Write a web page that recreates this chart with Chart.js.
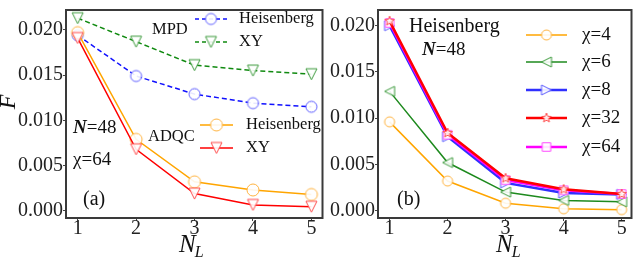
<!DOCTYPE html>
<html><head><meta charset="utf-8">
<script src="https://cdn.jsdelivr.net/npm/chart.js@4"></script>
<style>
body{margin:0;background:#fff;width:640px;height:259px;overflow:hidden;position:relative}
#wa{position:absolute;left:0;top:0;width:330px;height:259px}
#wb{position:absolute;left:330px;top:0;width:310px;height:259px}
</style></head><body>
<div id="wa"><canvas id="ca"></canvas></div>
<div id="wb"><canvas id="cb"></canvas></div>
<script>
// ---- data ----
const nL = [1, 2, 3, 4, 5];
const yTicks = [0, 0.005, 0.010, 0.015, 0.020];
// panel (a)
const mpdHeis  = [0.0194, 0.0149, 0.0129, 0.0119, 0.0115];
const mpdXY    = [0.0213, 0.0187, 0.0161, 0.0155, 0.0151];
const adqcHeis = [0.0197, 0.0079, 0.0032, 0.0023, 0.0018];
const adqcXY   = [0.0191, 0.0068, 0.0019, 0.00065, 0.00045];
// panel (b)
const chi4  = [0.0096, 0.0032, 0.0008, 0.0002, 0.0001];
const chi6  = [0.0129, 0.0052, 0.0020, 0.0011, 0.00095];
const chi8  = [0.0200, 0.0080, 0.0030, 0.0019, 0.00175];
const chi32 = [0.0205, 0.0084, 0.0035, 0.0023, 0.0018];
const chi64 = [0.0203, 0.0082, 0.0033, 0.0022, 0.0018];

const SERIF = '"Liberation Serif", "DejaVu Serif", serif';

function marker(shape, stroke, r) {
  const s = Math.ceil(r * 2 + 4);
  const c = document.createElement('canvas');
  c.width = s; c.height = s;
  const g = c.getContext('2d');
  const cx = s / 2, cy = s / 2;
  g.beginPath();
  if (shape === 'circle') {
    g.arc(cx, cy, r, 0, Math.PI * 2);
  } else if (shape === 'down') {
    g.moveTo(cx, cy + r); g.lineTo(cx - r, cy - r); g.lineTo(cx + r, cy - r); g.closePath();
  } else if (shape === 'left') {
    g.moveTo(cx - r, cy); g.lineTo(cx + r, cy - r); g.lineTo(cx + r, cy + r); g.closePath();
  } else if (shape === 'right') {
    g.moveTo(cx + r, cy); g.lineTo(cx - r, cy - r); g.lineTo(cx - r, cy + r); g.closePath();
  } else if (shape === 'square') {
    const h = r * 0.85; g.rect(cx - h, cy - h, 2 * h, 2 * h);
  } else if (shape === 'star') {
    for (let i = 0; i < 10; i++) {
      const rr = i % 2 === 0 ? r : r * 0.42;
      const a = -Math.PI / 2 + i * Math.PI / 5;
      const x = cx + rr * Math.cos(a), y = cy + rr * Math.sin(a);
      if (i === 0) g.moveTo(x, y); else g.lineTo(x, y);
    }
    g.closePath();
  }
  g.fillStyle = 'rgba(255,255,255,0.9)';
  g.fill();
  g.lineWidth = 1;
  g.strokeStyle = stroke;
  g.stroke();
  return c;
}

function pts(vals) { return nL.map((x, i) => ({ x: x, y: vals[i] })); }

function scalesCfg(xmax, ymax, yW) {
  const tickFont = { family: SERIF, size: 20, lineHeight: 1 };
  return {
    x: {
      type: 'linear', min: 0.8, max: xmax,
      afterBuildTicks: s => { s.ticks = nL.map(v => ({ value: v })); },
      afterFit: s => { s.height = 41; },
      ticks: { font: tickFont, color: '#222', padding: -2, maxRotation: 0 },
      grid: { display: true, drawOnChartArea: false, drawTicks: true, tickLength: 3, color: '#444' },
      border: { display: false }
    },
    y: {
      min: -0.0008, max: ymax,
      afterBuildTicks: s => { s.ticks = yTicks.map(v => ({ value: v })); },
      afterFit: s => { s.width = yW; },
      ticks: { font: tickFont, color: '#222', padding: 0, callback: v => Number(v).toFixed(3) },
      grid: { display: true, drawOnChartArea: false, drawTicks: true, tickLength: 3, color: '#444' },
      border: { display: false }
    }
  };
}

function drawNL(ctx, x, y) {
  ctx.save();
  ctx.fillStyle = '#111';
  ctx.textBaseline = 'middle';
  ctx.textAlign = 'left';
  ctx.font = 'italic 25px ' + SERIF;
  ctx.fillText('N', x, y);
  const w = ctx.measureText('N').width;
  ctx.font = 'italic 16px ' + SERIF;
  ctx.fillText('L', x + w - 1, y + 8);
  ctx.restore();
}

function frame(chart) {
  const a = chart.chartArea, ctx = chart.ctx;
  ctx.save();
  ctx.strokeStyle = '#3a3a3a';
  ctx.lineWidth = 2;
  ctx.strokeRect(a.left, a.top, a.right - a.left, a.bottom - a.top);
  ctx.restore();
}

function legendRow(ctx, x1, x2, y, color, width, dash, img, label, font, tx) {
  ctx.save();
  ctx.strokeStyle = color; ctx.lineWidth = width; ctx.setLineDash(dash);
  ctx.beginPath(); ctx.moveTo(x1, y); ctx.lineTo(x2, y); ctx.stroke();
  ctx.setLineDash([]);
  const mx = (x1 + x2) / 2;
  ctx.drawImage(img, mx - img.width / 2, y - img.height / 2);
  ctx.fillStyle = '#111'; ctx.font = font; ctx.textBaseline = 'middle'; ctx.textAlign = 'left';
  ctx.fillText(label, tx, y);
  ctx.restore();
}

function text(ctx, s, x, y, font) {
  ctx.save();
  ctx.fillStyle = '#111'; ctx.font = font; ctx.textBaseline = 'middle'; ctx.textAlign = 'left';
  ctx.fillText(s, x, y);
  ctx.restore();
}
function textN(ctx, rest, x, y, size) {
  ctx.save();
  ctx.fillStyle = '#111'; ctx.textBaseline = 'middle'; ctx.textAlign = 'left';
  ctx.font = 'italic bold ' + size + 'px ' + SERIF;
  ctx.fillText('N', x, y);
  const w = ctx.measureText('N').width;
  ctx.font = size + 'px ' + SERIF;
  ctx.fillText(rest, x + w, y);
  ctx.restore();
}

// markers
const mA = {
  blueC: marker('circle', '#5a5aff', 5.5),
  greenT: marker('down', '#3c9a3c', 5.5),
  orangeC: marker('circle', '#ffb340', 6),
  redT: marker('down', '#ff4a4a', 5.5)
};
const mB = {
  c4: marker('circle', '#ffb340', 5),
  c6: marker('left', '#3c9a3c', 5),
  c8: marker('right', '#5a5aff', 5),
  c32: marker('star', '#ff4a4a', 5),
  c64: marker('square', '#ff4aff', 5)
};

function ds(label, vals, color, width, dash, img) {
  return {
    label: label, data: pts(vals), borderColor: color, borderWidth: width,
    borderDash: dash, pointStyle: img, pointRadius: 6, pointHoverRadius: 6,
    tension: 0, fill: false
  };
}

Chart.defaults.font.family = SERIF;

new Chart(document.getElementById('ca'), {
  type: 'line',
  data: {
    datasets: [
      ds('ADQC XY', adqcXY, '#ff0000', 1.5, [], mA.redT),
      ds('ADQC Heisenberg', adqcHeis, '#ffa500', 1.5, [], mA.orangeC),
      ds('MPD Heisenberg', mpdHeis, '#1010ff', 1.5, [5, 3], mA.blueC),
      ds('MPD XY', mpdXY, '#108a10', 1.5, [5, 3], mA.greenT)
    ]
  },
  options: {
    responsive: true, maintainAspectRatio: false, animation: false, devicePixelRatio: 1,
    layout: { padding: { top: 4, right: 6, left: 0, bottom: 0 } },
    plugins: { legend: { display: false }, tooltip: { enabled: false } },
    scales: scalesCfg(5.19, 0.0222, 66)
  },
  plugins: [{
    id: 'decoA',
    afterDraw(chart) {
      const ctx = chart.ctx;
      frame(chart);
      const f16 = '16.5px ' + SERIF;
      text(ctx, 'MPD', 152, 30, f16);
      legendRow(ctx, 195, 227, 19, '#1010ff', 1.5, [4, 3], mA.blueC, 'Heisenberg', f16, 239);
      legendRow(ctx, 195, 227, 42, '#108a10', 1.5, [4, 3], mA.greenT, 'XY', f16, 239);
      text(ctx, 'ADQC', 148, 137, f16);
      legendRow(ctx, 200, 233, 125, '#ffa500', 1.5, [], mA.orangeC, 'Heisenberg', f16, 246);
      legendRow(ctx, 200, 233, 148, '#ff0000', 1.5, [], mA.redT, 'XY', f16, 246);
      textN(ctx, '=48', 73, 128, 19);
      text(ctx, 'χ=64', 73, 160, '19px ' + SERIF);
      text(ctx, '(a)', 83, 200, '20px ' + SERIF);
      drawNL(ctx, 179, 245);
      ctx.save();
      ctx.translate(9, 102); ctx.rotate(-Math.PI / 2);
      ctx.fillStyle = '#111'; ctx.font = 'italic 24px ' + SERIF;
      ctx.textAlign = 'center'; ctx.textBaseline = 'middle';
      ctx.fillText('F', 0, 0);
      ctx.restore();
    }
  }]
});

new Chart(document.getElementById('cb'), {
  type: 'line',
  data: {
    datasets: [
      ds('χ=32', chi32, '#ff0000', 2.5, [], mB.c32),
      ds('χ=64', chi64, '#ff00ff', 2.5, [], mB.c64),
      ds('χ=8', chi8, '#3030ff', 2.5, [], mB.c8),
      ds('χ=6', chi6, '#1e8a1e', 1.5, [], mB.c6),
      ds('χ=4', chi4, '#ffa500', 1.5, [], mB.c4)
    ]
  },
  options: {
    responsive: true, maintainAspectRatio: false, animation: false, devicePixelRatio: 1,
    layout: { padding: { top: 4, right: 3, left: 0, bottom: 0 } },
    plugins: { legend: { display: false }, tooltip: { enabled: false } },
    scales: scalesCfg(5.17, 0.0217, 48)
  },
  plugins: [{
    id: 'decoB',
    afterDraw(chart) {
      const ctx = chart.ctx;
      frame(chart);
      const f = '19px ' + SERIF;
      text(ctx, 'Heisenberg', 79, 27, '20px ' + SERIF);
      textN(ctx, '=48', 92, 50, 19);
      text(ctx, '(b)', 67, 200, '20px ' + SERIF);
      legendRow(ctx, 196, 237, 35, '#ffa500', 1.5, [], mB.c4, 'χ=4', f, 252);
      legendRow(ctx, 196, 237, 62, '#1e8a1e', 1.5, [], mB.c6, 'χ=6', f, 252);
      legendRow(ctx, 196, 237, 90, '#3030ff', 2.5, [], mB.c8, 'χ=8', f, 252);
      legendRow(ctx, 196, 237, 118, '#ff0000', 2.5, [], mB.c32, 'χ=32', f, 252);
      legendRow(ctx, 196, 237, 147, '#ff00ff', 2.5, [], mB.c64, 'χ=64', f, 252);
      drawNL(ctx, 166, 245);
    }
  }]
});
</script>
</body></html>
